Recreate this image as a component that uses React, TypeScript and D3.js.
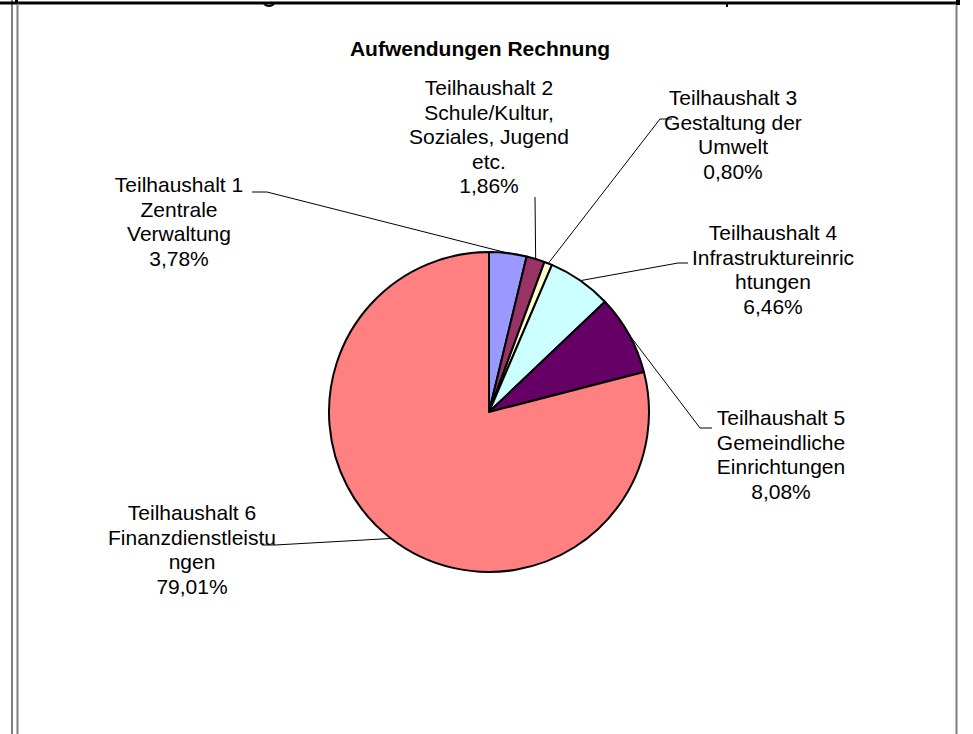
import { FC, useEffect, useRef } from 'react';
import * as d3 from 'd3';

// chart data
const categories = [
  ['Teilhaushalt 1', 'Zentrale', 'Verwaltung'],
  ['Teilhaushalt 2', 'Schule/Kultur,', 'Soziales, Jugend', 'etc.'],
  ['Teilhaushalt 3', 'Gestaltung der', 'Umwelt'],
  ['Teilhaushalt 4', 'Infrastruktureinric', 'htungen'],
  ['Teilhaushalt 5', 'Gemeindliche', 'Einrichtungen'],
  ['Teilhaushalt 6', 'Finanzdienstleistu', 'ngen'],
];
const values = [3.78, 1.86, 0.8, 6.46, 8.08, 79.01];
const title = 'Aufwendungen Rechnung';

// layout of the labels: text centre, first baseline, leader elbow and end
const labelLayout = [
  { x: 179, y: 192, elbow: [267, 192], end: [252, 192] },
  { x: 489, y: 95, elbow: [535, 197], end: [535, 197] },
  { x: 733, y: 105, elbow: [660, 119], end: [672, 119] },
  { x: 773, y: 240, elbow: [678, 263], end: [688, 263] },
  { x: 781, y: 425, elbow: [700, 428], end: [712, 428] },
  { x: 192, y: 520, elbow: [275, 545], end: [262, 545] },
];
const colors = ['#9999FF', '#993366', '#FFFFCC', '#CCFFFF', '#660066', '#FF8080'];

const W = 973;
const H = 734;
const FONT = "'Liberation Sans', Arial, sans-serif";

const App: FC = () => {
  const ref = useRef<SVGSVGElement>(null);

  useEffect(() => {
    const svg = d3.select(ref.current);
    svg.selectAll('*').remove();

    //Frame of the sheet
    svg.append('line').attr('x1', 0).attr('x2', 960).attr('y1', 3).attr('y2', 3)
      .attr('stroke', '#000').attr('stroke-width', 3);
    svg.append('line').attr('x1', 12).attr('x2', 12).attr('y1', 0).attr('y2', H)
      .attr('stroke', '#000').attr('stroke-width', 1);
    svg.append('line').attr('x1', 17.5).attr('x2', 17.5).attr('y1', 3).attr('y2', H)
      .attr('stroke', '#808080').attr('stroke-width', 2);
    svg.append('line').attr('x1', 956.5).attr('x2', 956.5).attr('y1', 3).attr('y2', H)
      .attr('stroke', '#808080').attr('stroke-width', 2);
    svg.append('rect').attr('x', 15).attr('y', 0).attr('width', 3).attr('height', 4).attr('fill', '#000');
    svg.append('rect').attr('x', 956).attr('y', 0).attr('width', 4).attr('height', 5).attr('fill', '#000');
    // small marks left from the cut cell text above the frame
    svg.append('path').attr('d', 'M264,4 Q269,8 274,4').attr('fill', 'none').attr('stroke', '#000').attr('stroke-width', 2);
    svg.append('line').attr('x1', 727).attr('x2', 727).attr('y1', 3).attr('y2', 7)
      .attr('stroke', '#000').attr('stroke-width', 2);

    //Title
    svg.append('text').attr('x', 480).attr('y', 56).attr('text-anchor', 'middle')
      .attr('font-family', FONT).attr('font-weight', 'bold').attr('font-size', 21)
      .text(title);

    const cx = 489;
    const cy = 412;
    const r = 160;
    const pie = d3.pie<number>().sort(null).value((d) => d);
    const arcs = pie(values);
    const arc = d3.arc<d3.PieArcDatum<number>>().innerRadius(0).outerRadius(r);

    const g = svg.append('g').attr('transform', `translate(${cx},${cy})`);
    g.selectAll('path').data(arcs).enter().append('path')
      .attr('d', arc)
      .attr('fill', (d, i) => colors[i])
      .attr('stroke', '#000').attr('stroke-width', 2).attr('stroke-linejoin', 'round');

    // leader lines and labels
    const fmt = (v: number) => d3.format('.2f')(v).replace('.', ',') + '%';
    arcs.forEach((a, i) => {
      const mid = (a.startAngle + a.endAngle) / 2;
      const px = cx + r * Math.sin(mid);
      const py = cy - r * Math.cos(mid);
      const L = labelLayout[i];
      svg.append('path')
        .attr('d', d3.line()([[px, py], L.elbow as [number, number], L.end as [number, number]]))
        .attr('fill', 'none').attr('stroke', '#000').attr('stroke-width', 1);

      const lines = [...categories[i], fmt(values[i])];
      const t = svg.append('text').attr('text-anchor', 'middle')
        .attr('font-family', FONT).attr('font-size', 21).attr('fill', '#000');
      lines.forEach((s, j) => {
        t.append('tspan').attr('x', L.x).attr('y', L.y + j * 24.5).text(s);
      });
    });
  }, []);

  return (
    <svg ref={ref} width={W} height={H}
      style={{ position: 'absolute', left: 0, top: 0, background: '#fff' }} />
  );
};

export default App;
